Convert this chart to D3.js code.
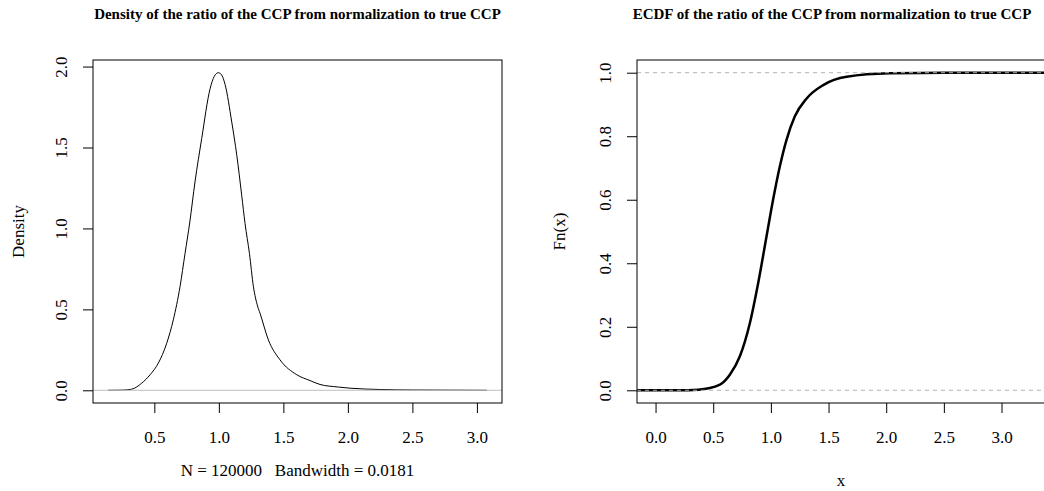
<!DOCTYPE html>
<html>
<head>
<meta charset="UTF-8">
<script src="https://cdn.jsdelivr.net/npm/d3@7"></script>
<style>
  body { margin: 0; background: #fff; }
  svg text { font-family: "Liberation Serif", "Times New Roman", serif; fill: #000; }
  .main { font-weight: bold; font-size: 15px; }
  .tick-label, .lab { font-size: 17px; white-space: pre; }
</style>
</head>
<body>
<script>
// density curve
var densX = [0.142, 0.25, 0.325, 0.402, 0.467, 0.531, 0.596, 0.647, 0.699, 0.738, 0.775,
             0.815, 0.867, 0.932, 0.965, 0.995, 1.02, 1.048, 1.1, 1.139, 1.177, 1.203,
             1.237, 1.268, 1.30, 1.319, 1.384, 1.474, 1.604, 1.707, 1.784, 1.926, 2.017,
             2.25, 2.5, 2.8, 3.077];
var densY = [0, 0.001, 0.007, 0.044, 0.096, 0.168, 0.291, 0.435, 0.64, 0.846, 1.04,
             1.287, 1.555, 1.863, 1.94, 1.962, 1.95, 1.89, 1.657, 1.452, 1.205, 1.03,
             0.846, 0.64, 0.52, 0.476, 0.311, 0.188, 0.096, 0.06, 0.036, 0.02, 0.013,
             0.005, 0.002, 0.001, 0];

// ECDF
var ecdfX = [0.196, 0.37, 0.558, 0.644, 0.731, 0.818, 0.89, 0.962, 1.019, 1.077, 1.135,
             1.207, 1.31, 1.454, 1.656, 2.03, 2.5, 3.02];
var ecdfF = [0, 0.002, 0.018, 0.049, 0.107, 0.212, 0.338, 0.484, 0.6, 0.704, 0.788,
             0.862, 0.919, 0.961, 0.987, 0.998, 0.9995, 1];

var densXTicks = [0.5, 1.0, 1.5, 2.0, 2.5, 3.0];
var densYTicks = [0.0, 0.5, 1.0, 1.5, 2.0];
var ecdfXTicks = [0.0, 0.5, 1.0, 1.5, 2.0, 2.5, 3.0];
var ecdfYTicks = [0.0, 0.2, 0.4, 0.6, 0.8, 1.0];

var densTitle = "Density of the ratio of the CCP from normalization to true CCP";
var ecdfTitle = "ECDF of the ratio of the CCP from normalization to true CCP";
var densXLab = "N = 120000   Bandwidth = 0.0181";

var W = 1044, H = 491;
var svg = d3.select("body").append("svg").attr("width", W).attr("height", H);

// R style 4% padding of a range
function pad(lo, hi) {
  var d = (hi - lo) * 0.04;
  return [lo - d, hi + d];
}

function axes(g, x, y, xt, yt) {
  var xa = d3.axisBottom(x).tickValues(xt).tickSize(10).tickPadding(18)
    .tickFormat(d3.format(".1f"));
  var ya = d3.axisLeft(y).tickValues(yt).tickSize(10).tickPadding(10)
    .tickFormat(d3.format(".1f"));
  var gx = g.append("g").attr("transform", "translate(0," + y.range()[0] + ")").call(xa);
  var gy = g.append("g").attr("transform", "translate(" + x.range()[0] + ",0)").call(ya);
  [gx, gy].forEach(function(a) {
    a.attr("font-family", null).attr("font-size", null);
    a.select(".domain").remove();
    a.selectAll("line").attr("stroke", "#000");
    a.selectAll("text").attr("class", "tick-label");
  });
  gx.selectAll("text").attr("dy", "0.71em");
  // y labels run along the axis, like R's default
  gy.selectAll(".tick text")
    .attr("text-anchor", "middle")
    .attr("dy", "0")
    .attr("transform", "rotate(-90)")
    .attr("x", 0)
    .attr("y", -26);
}

function box(g, x, y) {
  g.append("rect")
    .attr("x", x.range()[0]).attr("y", y.range()[1])
    .attr("width", x.range()[1] - x.range()[0])
    .attr("height", y.range()[0] - y.range()[1])
    .attr("fill", "none").attr("stroke", "#000").attr("stroke-width", 1);
}

function clip(id, x, y) {
  svg.append("clipPath").attr("id", id).append("rect")
    .attr("x", x.range()[0]).attr("y", y.range()[1])
    .attr("width", x.range()[1] - x.range()[0])
    .attr("height", y.range()[0] - y.range()[1]);
}

// ---- left: density ----
var x1 = d3.scaleLinear().domain(pad(d3.min(densX), d3.max(densX))).range([93, 502]);
var y1 = d3.scaleLinear().domain(pad(0, d3.max(densY))).range([403, 60]);
var g1 = svg.append("g");
clip("c1", x1, y1);

g1.append("path")
  .datum(d3.range(densX.length))
  .attr("clip-path", "url(#c1)")
  .attr("fill", "none").attr("stroke", "#000").attr("stroke-width", 1)
  .attr("d", d3.line().curve(d3.curveMonotoneX)
    .x(function(i) { return x1(densX[i]); })
    .y(function(i) { return y1(densY[i]); }));

g1.append("line")
  .attr("x1", x1.range()[0]).attr("x2", x1.range()[1])
  .attr("y1", y1(0)).attr("y2", y1(0))
  .attr("stroke", "#bebebe").attr("stroke-width", 1);

box(g1, x1, y1);
axes(g1, x1, y1, densXTicks, densYTicks);

g1.append("text").attr("class", "main").attr("text-anchor", "middle")
  .attr("x", (x1.range()[0] + x1.range()[1]) / 2).attr("y", 19).text(densTitle);
g1.append("text").attr("class", "lab").attr("text-anchor", "middle")
  .attr("x", (x1.range()[0] + x1.range()[1]) / 2).attr("y", 476).text(densXLab);
g1.append("text").attr("class", "lab").attr("text-anchor", "middle")
  .attr("transform", "translate(24," + (y1.range()[0] + y1.range()[1]) / 2 + ") rotate(-90)")
  .text("Density");

// ---- right: ECDF ----
var ex = d3.extent(ecdfX);
var dr = 0.08 * (ex[1] - ex[0]);
var x2 = d3.scaleLinear().domain(pad(ex[0] - dr, ex[1] + dr)).range([637, 1045]);
var y2 = d3.scaleLinear().domain(pad(0, 1)).range([403, 60]);
var g2 = svg.append("g");
clip("c2", x2, y2);

var ecdfPts = [[x2.domain()[0], 0]]
  .concat(ecdfX.map(function(v, i) { return [v, ecdfF[i]]; }))
  .concat([[x2.domain()[1], 1]]);

g2.append("path")
  .datum(ecdfPts)
  .attr("clip-path", "url(#c2)")
  .attr("fill", "none").attr("stroke", "#000").attr("stroke-width", 2.5)
  .attr("d", d3.line().curve(d3.curveMonotoneX)
    .x(function(d) { return x2(d[0]); })
    .y(function(d) { return y2(d[1]); }));

[0, 1].forEach(function(h) {
  g2.append("line")
    .attr("x1", x2.range()[0]).attr("x2", x2.range()[1])
    .attr("y1", y2(h)).attr("y2", y2(h))
    .attr("stroke", "#b3b3b3").attr("stroke-width", 1)
    .attr("stroke-dasharray", "4,4");
});

box(g2, x2, y2);
axes(g2, x2, y2, ecdfXTicks, ecdfYTicks);

g2.append("text").attr("class", "main").attr("text-anchor", "middle")
  .attr("x", 832).attr("y", 19).text(ecdfTitle);
g2.append("text").attr("class", "lab").attr("text-anchor", "middle")
  .attr("x", (x2.range()[0] + x2.range()[1]) / 2).attr("y", 486).text("x");
g2.append("text").attr("class", "lab").attr("text-anchor", "middle")
  .attr("transform", "translate(565," + (y2.range()[0] + y2.range()[1]) / 2 + ") rotate(-90)")
  .text("Fn(x)");
</script>
</body>
</html>
